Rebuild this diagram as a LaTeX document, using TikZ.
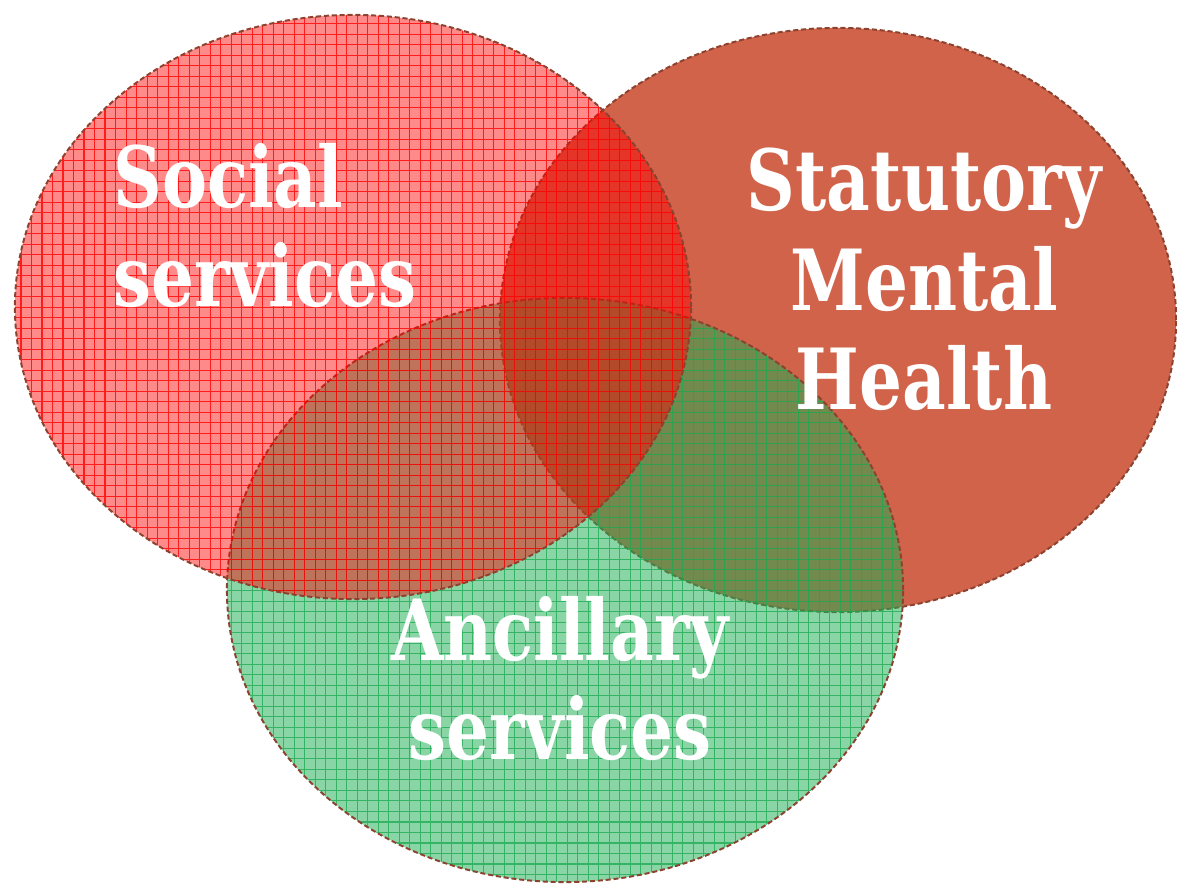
\documentclass[tikz,border=0pt]{standalone}
\usepackage{fontspec}
\newfontfamily\labelfont{DejaVu Serif}[FakeStretch=0.8]
\definecolor{statfill}{RGB}{208,99,74}
\definecolor{socfill}{RGB}{255,0,0}
\definecolor{ancfill}{RGB}{30,175,85}
\definecolor{ancline}{RGB}{25,170,80}
\definecolor{rimcol}{RGB}{140,66,46}
\tikzset{
  rim/.style={draw=rimcol, line width=1.4pt, dash pattern=on 3.6pt off 2pt},
  meshlines/.style={line width=0.75pt},
  setlabel/.style={text=white, inner sep=0pt, font=\labelfont\bfseries\fontsize{60}{71}\selectfont}
}
\newcommand{\statshape}{(838,565) ellipse [x radius=8.45cm, y radius=7.3cm]}
\newcommand{\socshape}{(353,578) ellipse [x radius=8.45cm, y radius=7.3cm]}
\newcommand{\ancshape}{(565,295) ellipse [x radius=8.45cm, y radius=7.3cm]}
\begin{document}
\begin{tikzpicture}[x=0.025cm, y=0.025cm]
  \useasboundingbox (0,0) rectangle (1177,885);

  % statutory mental health: solid disc
  \fill[statfill] \statshape;
  \draw[rim] \statshape;

  % ancillary services: translucent disc with mesh
  \fill[ancfill, opacity=0.52] \ancshape;
  \begin{scope}
    \clip \ancshape;
    \draw[ancline, meshlines, opacity=0.75] (0,0) grid[step=0.2625cm] (1177,885);
  \end{scope}
  \draw[rim] \ancshape;

  % social services: translucent disc with mesh
  \fill[socfill, opacity=0.46] \socshape;
  \begin{scope}
    \clip \socshape;
    \draw[socfill, meshlines, opacity=0.8] (0,0) grid[step=0.2625cm] (1177,885);
  \end{scope}
  \draw[rim] \socshape;

  % labels (anchored at the baseline of their last line)
  \node[setlabel, anchor=base west, align=left] (soc) at (113,578) {Social\\services};
  \node[setlabel, anchor=base, align=center] (stat) at (924,475) {Statutory\\Mental\\Health};
  \node[setlabel, anchor=base, align=center] (anc) at (560,125) {Ancillary\\services};
\end{tikzpicture}
\end{document}
